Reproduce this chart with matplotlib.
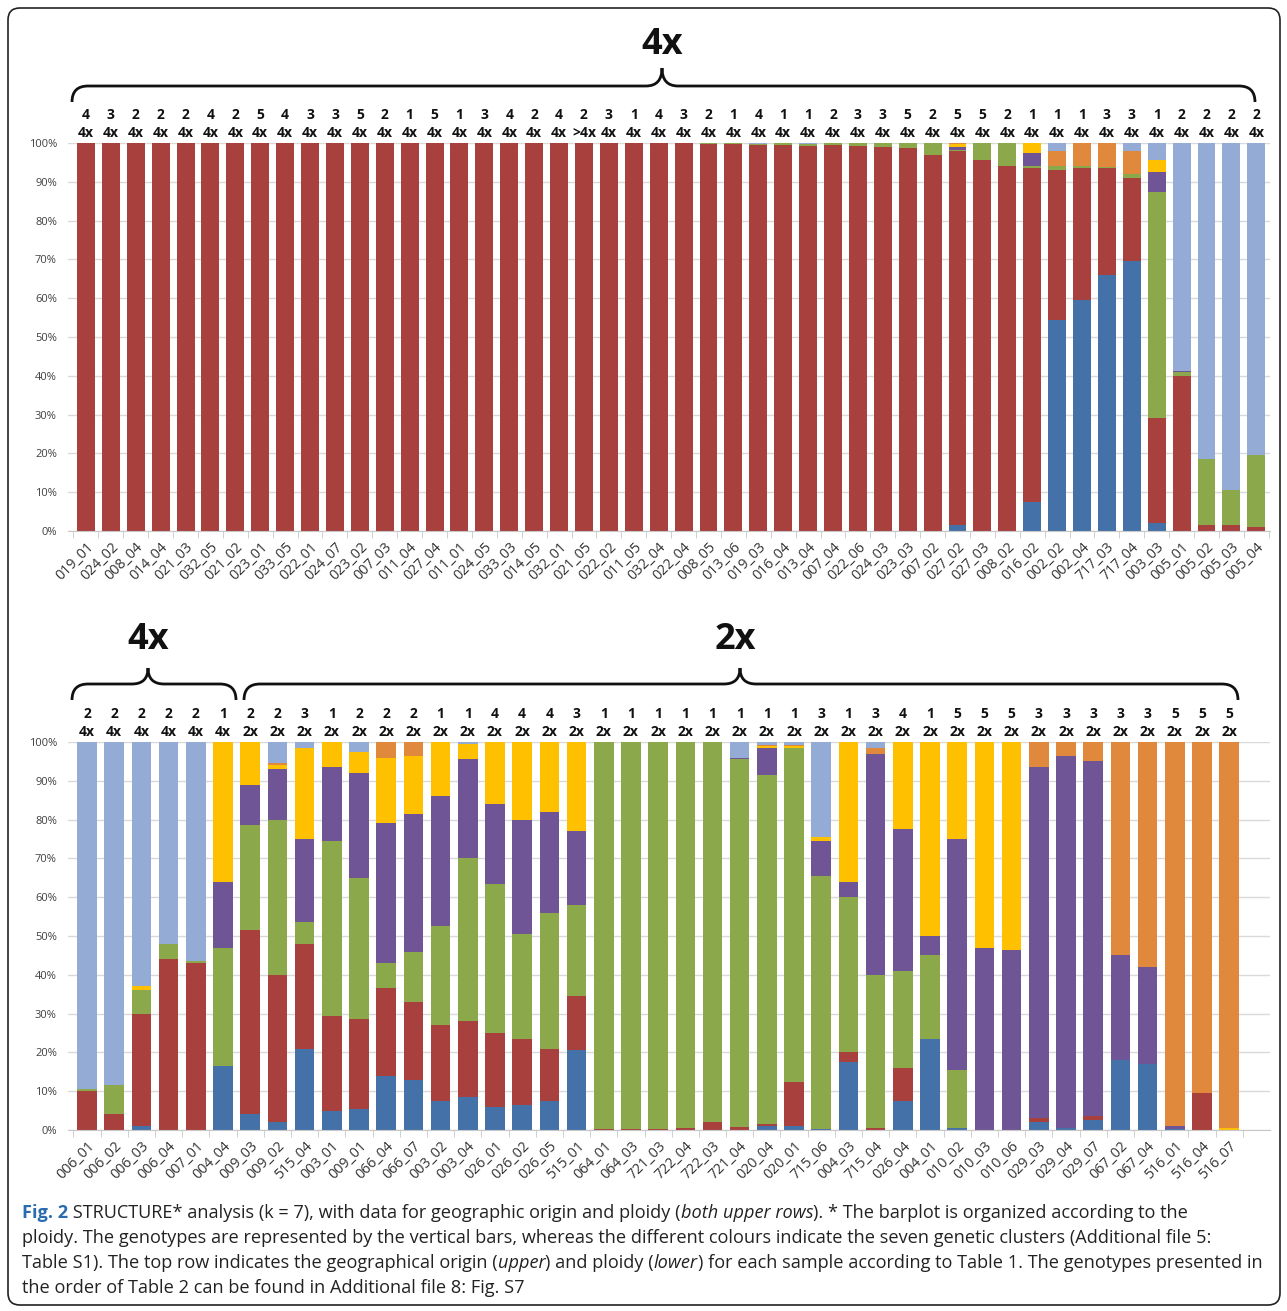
import numpy as np
import matplotlib
matplotlib.use('Agg')
import matplotlib.pyplot as plt
from matplotlib.path import Path
from matplotlib.patches import PathPatch, FancyBboxPatch
from matplotlib.transforms import Affine2D, ScaledTranslation, blended_transform_factory

plt.rcParams['font.family'] = ['Open Sans', 'DejaVu Sans']

W, H = 1287, 1311
fs = 10.3

clusters = ['blue', 'red', 'green', 'purple', 'yellow', 'orange', 'lightblue']
colours = ['#4472A8', '#A8403E', '#8BA84A', '#6F5596', '#FFC000', '#E0883C', '#93ABD5']

# ---------------- top panel (all 4x) ----------------
top_names = ['019_01', '024_02', '008_04', '014_04', '021_03', '032_05', '021_02', '023_01',
             '033_05', '022_01', '024_07', '023_02', '007_03', '011_04', '027_04', '011_01',
             '024_05', '033_03', '014_05', '032_01', '021_05', '022_02', '011_05', '032_04',
             '022_04', '008_05', '013_06', '019_03', '016_04', '013_04', '007_04', '022_06',
             '024_03', '023_03', '007_02', '027_02', '027_03', '008_02', '016_02', '002_02',
             '002_04', '717_03', '717_04', '003_03', '005_01', '005_02', '005_03', '005_04']
top_origin = ['4', '3', '2', '2', '2', '4', '2', '5', '4', '3', '3', '5', '2', '1', '5', '1',
              '3', '4', '2', '4', '2', '3', '1', '4', '3', '2', '1', '4', '1', '1', '2', '3',
              '3', '5', '2', '5', '5', '2', '1', '1', '1', '3', '3', '1', '2', '2', '2', '2']
top_ploidy = ['4x'] * 20 + ['>4x'] + ['4x'] * 27

top_blue = [0] * 35 + [1.5, 0, 0, 7.5, 54.5, 59.5, 66, 69.5, 2, 0, 0, 0, 0]
top_red = [100] * 25 + [99.8, 99.7, 99.5, 99.5, 99.3, 99.5, 99.2, 99, 98.8, 97,
                        96.5, 95.5, 94, 86, 38.5, 34, 27.5, 21.5, 27, 40, 1.5, 1.5, 1]
top_green = [0] * 25 + [0.2, 0.3, 0.3, 0.5, 0.5, 0.5, 0.8, 1, 1.2, 3,
                        0.3, 4.5, 6, 0.5, 1, 0.5, 0.3, 1, 58.5, 1, 17, 9, 18.5]
top_purple = [0] * 35 + [0.7, 0, 0, 3.5, 0, 0, 0, 0, 5, 0.3, 0, 0, 0]
top_yellow = [0] * 35 + [0.8, 0, 0, 2.5, 0, 0, 0, 0, 3, 0, 0, 0, 0]
top_orange = [0] * 35 + [0.2, 0, 0, 0, 4, 6, 6.2, 6, 0, 0, 0, 0, 0]
top_lightblue = [0] * 27 + [0.2, 0, 0.2, 0, 0, 0, 0, 0, 0, 0, 0, 0, 2, 0, 0, 2, 4.5, 58.7, 81.5, 89.5, 80.5]

# ---------------- bottom panel (4x then 2x) ----------------
bot_names = ['006_01', '006_02', '006_03', '006_04', '007_01', '004_04', '009_03', '009_02',
             '515_04', '003_01', '009_01', '066_04', '066_07', '003_02', '003_04', '026_01',
             '026_02', '026_05', '515_01', '064_01', '064_03', '721_03', '722_04', '722_03',
             '721_04', '020_04', '020_01', '715_06', '004_03', '715_04', '026_04', '004_01',
             '010_02', '010_03', '010_06', '029_03', '029_04', '029_07', '067_02', '067_04',
             '516_01', '516_04', '516_07']
bot_origin = ['2', '2', '2', '2', '2', '1', '2', '2', '3', '1', '2', '2', '2', '1', '1', '4',
              '4', '4', '3', '1', '1', '1', '1', '1', '1', '1', '1', '3', '1', '3', '4', '1',
              '5', '5', '5', '3', '3', '3', '3', '3', '5', '5', '5']
bot_ploidy = ['4x'] * 6 + ['2x'] * 37

bot_blue = [0, 0, 1, 0, 0, 16.5, 4, 2, 21, 5, 5.5, 14, 13, 7.5, 8.5, 6, 6.5, 7.5, 20.5,
            0, 0, 0, 0, 0, 0, 1, 1, 0.3, 17.5, 0, 7.5, 23.5, 0.5, 0, 0, 2, 0.5, 2.5, 18, 17,
            0.3, 0, 0]
bot_red = [10, 4, 29, 44, 43, 0, 47.5, 38, 27, 24.5, 23, 22.5, 20, 19.5, 19.5, 19, 17, 13.5,
           14, 0.2, 0.2, 0.3, 0.5, 2, 0.7, 0.5, 11.5, 0, 2.5, 0.5, 8.5, 0, 0, 0, 0, 1, 0, 1,
           0, 0, 0, 9.5, 0]
bot_green = [0.5, 7.5, 6, 4, 0.5, 30.5, 27, 40, 5.5, 45, 36.5, 6.5, 13, 25.5, 42, 38.5, 27,
             35, 23.5, 99.8, 99.8, 99.7, 99.5, 98, 94.8, 90, 86, 65.2, 40, 39.5, 25, 21.5, 15,
             0, 0, 0, 0, 0, 0, 0, 0, 0, 0]
bot_purple = [0, 0, 0, 0, 0, 17, 10.5, 13, 21.5, 19, 27, 36, 35.5, 33.5, 25.5, 20.5, 29.5,
              26, 19, 0, 0, 0, 0, 0, 0.5, 7, 0, 9, 4, 57, 36.5, 5, 59.5, 47, 46.5, 90.5, 96,
              91.5, 27, 25, 0.7, 0, 0]
bot_yellow = [0, 0, 1, 0, 0, 36, 11, 1, 23.5, 6.5, 5.5, 17, 15, 14, 4, 16, 20, 18, 23, 0, 0,
              0, 0, 0, 0, 0.5, 0.5, 1, 36, 0, 22.5, 50, 25, 53, 53.5, 0, 0, 0, 0, 0, 0, 0, 0.5]
bot_orange = [0, 0, 0, 0, 0, 0, 0, 0.5, 0, 0, 0, 4, 3.5, 0, 0, 0, 0, 0, 0, 0, 0, 0, 0, 0, 0,
              0.3, 0.3, 0, 0, 1.5, 0, 0, 0, 0, 0, 6.5, 3.5, 5, 55, 58, 99, 90.5, 99.5]
bot_lightblue = [89.5, 88.5, 63, 52, 56.5, 0, 0, 5.5, 1.5, 0, 2.5, 0, 0, 0, 0.5, 0, 0, 0, 0,
                 0, 0, 0, 0, 0, 4, 0.7, 0.7, 24.5, 0, 1.5, 0, 0, 0, 0, 0, 0, 0, 0, 0, 0, 0, 0, 0]

top_data = [top_blue, top_red, top_green, top_purple, top_yellow, top_orange, top_lightblue]
bot_data = [bot_blue, bot_red, bot_green, bot_purple, bot_yellow, bot_orange, bot_lightblue]

fig = plt.figure(figsize=(W / 100, H / 100), dpi=100)
pix = Affine2D().scale(1 / W, -1 / H).translate(0, 1) + fig.transFigure


def px_axes(left, top, right, bottom):
    return fig.add_axes([left / W, 1 - bottom / H, (right - left) / W, (bottom - top) / H])


def stacked(ax, names, data, origin, ploidy, xlim):
    x = np.arange(len(names))
    base = np.zeros(len(names))
    for vals, c in zip(data, colours):
        vals = np.array(vals, dtype=float)
        ax.bar(x, vals, bottom=base, width=0.72, color=c, linewidth=0, zorder=2)
        base += vals
    ax.set_xlim(*xlim)
    ax.set_ylim(0, 100)
    ax.set_yticks(np.arange(0, 101, 10))
    ax.set_yticklabels([f'{v}%' for v in range(0, 101, 10)], fontsize=8, color='#404040')
    ax.yaxis.grid(True, color='#D9D9D9', linewidth=1, zorder=0)
    ax.tick_params(axis='y', length=0, pad=8)
    for s in ['top', 'right', 'left']:
        ax.spines[s].set_visible(False)
    ax.spines['bottom'].set_color('#C8C8C8')
    ax.set_xticks(x)
    ax.set_xticklabels(names, rotation=45, ha='right', rotation_mode='anchor',
                       fontsize=fs, color='#333333')
    shift = ScaledTranslation(10 / 100, 0, fig.dpi_scale_trans)
    for lab in ax.get_xticklabels():
        lab.set_transform(lab.get_transform() + shift)
    ax.tick_params(axis='x', length=0, pad=6)
    ax.set_xticks(np.arange(-0.5, len(names), 1), minor=True)
    ax.tick_params(axis='x', which='minor', length=5, color='#C8C8C8')
    tr = blended_transform_factory(ax.transData, ax.transAxes)
    for i in range(len(names)):
        ax.text(x[i], 1.072, origin[i], transform=tr, ha='center', va='center',
                fontsize=10, fontweight='bold', color='#111111')
        ax.text(x[i], 1.026, ploidy[i], transform=tr, ha='center', va='center',
                fontsize=10, fontweight='bold', color='#111111')


ax1 = px_axes(68, 143, 1270, 531)
stacked(ax1, top_names, top_data, top_origin, top_ploidy, (-0.72, 47.55))

ax2 = px_axes(68, 742, 1270, 1130)
stacked(ax2, bot_names, bot_data, bot_origin, bot_ploidy, (-0.7, 43.5))


def brace(x0, x1, xc, y_end, y_line, y_tip, r=16):
    verts = [(x0, y_end), (x0, y_line), (x0 + r, y_line),
             (xc - r, y_line), (xc, y_line), (xc, y_tip),
             (xc, y_line), (xc + r, y_line),
             (x1 - r, y_line), (x1, y_line), (x1, y_end)]
    codes = [Path.MOVETO, Path.CURVE3, Path.CURVE3,
             Path.LINETO, Path.CURVE3, Path.CURVE3,
             Path.CURVE3, Path.CURVE3,
             Path.LINETO, Path.CURVE3, Path.CURVE3]
    fig.patches.append(PathPatch(Path(verts, codes), transform=pix, fill=False,
                                 lw=2, edgecolor='#111111'))


brace(72, 1255, 662, 102, 86, 68)
fig.text(662, 45, '4x', transform=pix, ha='center', va='center', fontsize=26,
         fontweight='bold', color='#111111')
brace(72, 236, 148, 700, 684, 668)
fig.text(148, 640, '4x', transform=pix, ha='center', va='center', fontsize=26,
         fontweight='bold', color='#111111')
brace(244, 1238, 740, 700, 684, 668)
fig.text(735, 640, '2x', transform=pix, ha='center', va='center', fontsize=26,
         fontweight='bold', color='#111111')

# outer frame
fig.patches.append(FancyBboxPatch((8, 8), 1272, 1297, boxstyle='round,pad=0,rounding_size=12',
                                  transform=pix, fill=False, lw=1.2, edgecolor='#222222'))

# caption with mixed styles
cap = [
    [('Fig. 2', 'bold', 'normal', '#2B6CB0'),
     (' STRUCTURE* analysis (k = 7), with data for geographic origin and ploidy (', 'normal', 'normal', '#222222'),
     ('both upper rows', 'normal', 'italic', '#222222'),
     ('). * The barplot is organized according to the', 'normal', 'normal', '#222222')],
    [('ploidy. The genotypes are represented by the vertical bars, whereas the different colours indicate the seven genetic clusters (Additional file 5:', 'normal', 'normal', '#222222')],
    [('Table S1). The top row indicates the geographical origin (', 'normal', 'normal', '#222222'),
     ('upper', 'normal', 'italic', '#222222'),
     (') and ploidy (', 'normal', 'normal', '#222222'),
     ('lower', 'normal', 'italic', '#222222'),
     (') for each sample according to Table 1. The genotypes presented in', 'normal', 'normal', '#222222')],
    [('the order of Table 2 can be found in Additional file 8: Fig. S7', 'normal', 'normal', '#222222')],
]
renderer = fig.canvas.get_renderer()
for k, line in enumerate(cap):
    xpos = 22
    ypos = 1213 + 25 * k
    for txt, wt, st, col in line:
        t = fig.text(xpos, ypos, txt, transform=pix, ha='left', va='center', fontsize=13.1,
                     fontweight=wt, fontstyle=st, color=col)
        bb = t.get_window_extent(renderer=renderer)
        xpos += bb.width * W / fig.bbox.width

fig.savefig('out.png', dpi=100)
